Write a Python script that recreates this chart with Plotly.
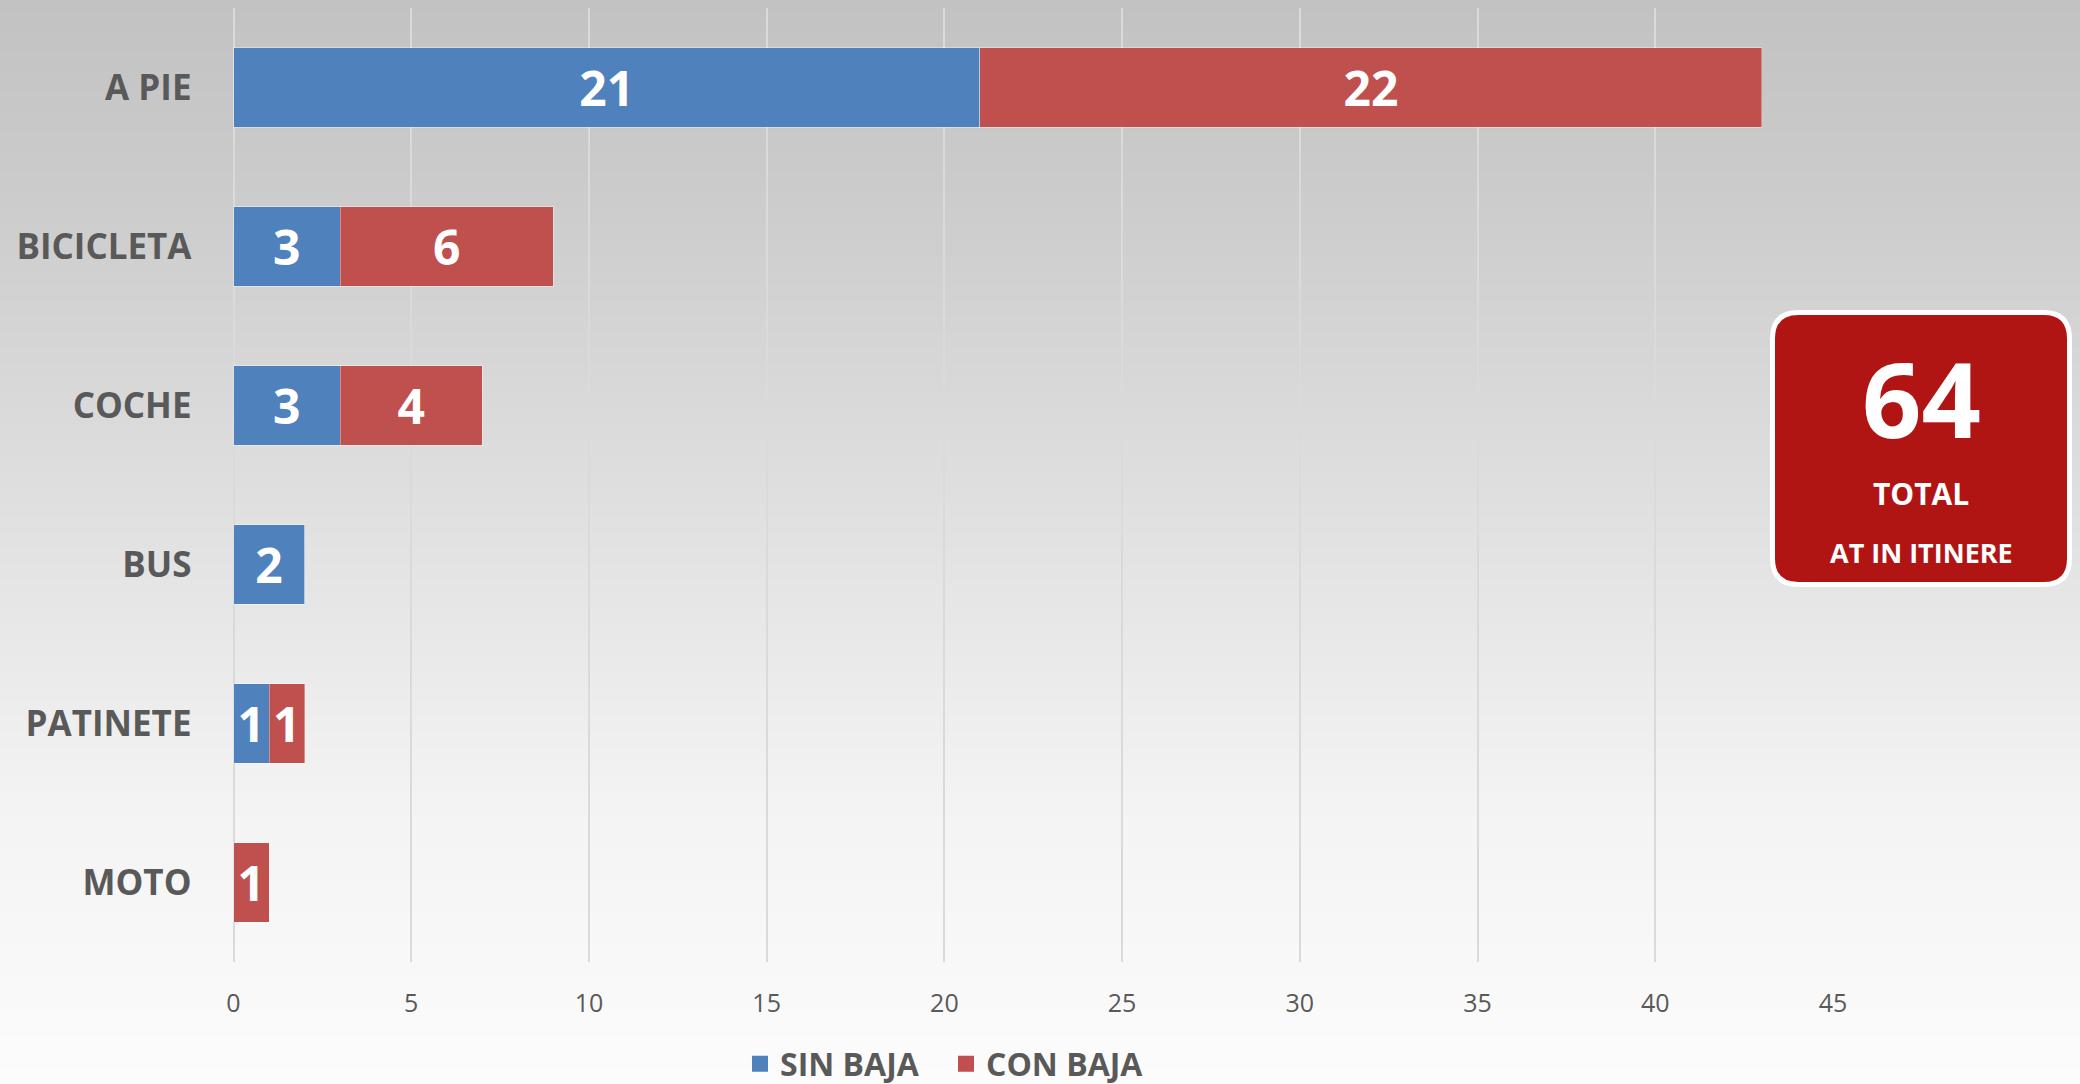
import base64, struct, zlib
import plotly.graph_objects as go

# ---------------- data ----------------
categories = ["A PIE", "BICICLETA", "COCHE", "BUS", "PATINETE", "MOTO"]
sin_baja = [21, 3, 3, 2, 1, 0]
con_baja = [22, 6, 4, 0, 1, 1]
x_ticks = [0, 5, 10, 15, 20, 25, 30, 35, 40, 45]
series_names = ["SIN BAJA", "CON BAJA"]
total_label = "64"

# ---------------- style ----------------
W, H = 2080, 1084
BLUE = "#4F81BD"
RED = "#C0504D"
TXT = "#595959"
FONT = "Open Sans"

def px_x(p):
    return p / W

def px_y(p):
    return 1 - p / H

# vertical gradient background as an inline PNG
def gradient_png():
    stops = [(0, 194), (200, 204), (540, 226), (800, 243), (1084, 252)]
    rows = []
    for y in range(H):
        for (y0, v0), (y1, v1) in zip(stops[:-1], stops[1:]):
            if y0 <= y <= y1:
                v = round(v0 + (v1 - v0) * (y - y0) / (y1 - y0))
                break
        rows.append(b"\x00" + bytes([v, v, v]))
    raw = b"".join(rows)

    def chunk(tag, data):
        c = struct.pack(">I", len(data)) + tag + data
        return c + struct.pack(">I", zlib.crc32(tag + data) & 0xFFFFFFFF)

    png = b"\x89PNG\r\n\x1a\n"
    png += chunk(b"IHDR", struct.pack(">IIBBBBB", 1, H, 8, 2, 0, 0, 0))
    png += chunk(b"IDAT", zlib.compress(raw, 9))
    png += chunk(b"IEND", b"")
    return "data:image/png;base64," + base64.b64encode(png).decode()

def labels(vals):
    return [str(v) if v else "" for v in vals]

fig = go.Figure()
for name, vals, col in [(series_names[0], sin_baja, BLUE), (series_names[1], con_baja, RED)]:
    fig.add_trace(go.Bar(
        y=categories, x=vals, name=name, orientation="h",
        marker=dict(color=col, line=dict(color="rgba(255,255,255,0.35)", width=1)),
        width=0.5,
        text=labels(vals), textposition="inside", insidetextanchor="middle",
        textangle=0, constraintext="none",
        textfont=dict(family=FONT, size=48, color="white", weight=700),
        showlegend=False, hoverinfo="x+y+name",
    ))
# legend entries (square keys)
for name, col in [(series_names[0], BLUE), (series_names[1], RED)]:
    fig.add_trace(go.Scatter(
        x=[None], y=[None], mode="markers", name=name,
        marker=dict(symbol="square", size=21, color=col),
        showlegend=True,
    ))

x0, x1 = 233.5, 1833
y_top, y_bot = 8, 962

fig.update_layout(
    template="none",
    width=W, height=H, autosize=False,
    margin=dict(l=0, r=0, t=0, b=0, pad=0, autoexpand=False),
    barmode="stack",
    paper_bgcolor="rgba(0,0,0,0)",
    plot_bgcolor="rgba(0,0,0,0)",
    font=dict(family=FONT, color=TXT),
    xaxis=dict(
        domain=[px_x(x0), px_x(x1)], range=[0, 45],
        tickvals=x_ticks, ticktext=[str(t) for t in x_ticks],
        showgrid=True, gridcolor="#DADADA", gridwidth=1.5,
        zeroline=True, zerolinecolor="#DADADA", zerolinewidth=1.5,
        showline=False, ticks="", automargin=False,
        tickfont=dict(family=FONT, size=25, color=TXT),
        ticklabelstandoff=24, fixedrange=True,
    ),
    yaxis=dict(
        domain=[px_y(y_bot), px_y(y_top)],
        categoryorder="array", categoryarray=categories,
        range=[5.5, -0.5],
        showgrid=False, zeroline=False, showline=False, ticks="",
        automargin=False,
        tickfont=dict(family=FONT, size=35, color=TXT, weight=700),
        ticklabelstandoff=41, fixedrange=True,
    ),
    legend=dict(
        orientation="h", x=px_x(740), y=px_y(1064), xanchor="left", yanchor="middle",
        font=dict(family=FONT, size=32, color=TXT, weight=700),
        bgcolor="rgba(0,0,0,0)", borderwidth=0, itemwidth=30, tracegroupgap=0,
        entrywidth=161, entrywidthmode="pixels",
        traceorder="normal",
        itemclick=False, itemdoubleclick=False,
    ),
    images=[dict(
        source=gradient_png(), xref="paper", yref="paper",
        x=0, y=1, sizex=1, sizey=1, sizing="stretch",
        xanchor="left", yanchor="top", layer="below",
    )],
)

# total box (rounded rectangle, pixel-sized around an anchor)
bw, bh, r = 297, 272, 26
hw, hh = bw / 2, bh / 2
path = (f"M{-hw + r},{-hh} L{hw - r},{-hh} Q{hw},{-hh} {hw},{-hh + r} "
        f"L{hw},{hh - r} Q{hw},{hh} {hw - r},{hh} L{-hw + r},{hh} "
        f"Q{-hw},{hh} {-hw},{hh - r} L{-hw},{-hh + r} Q{-hw},{-hh} {-hw + r},{-hh} Z")
fig.add_shape(
    type="path", path=path, xref="paper", yref="paper",
    xsizemode="pixel", ysizemode="pixel",
    xanchor=px_x(1921), yanchor=px_y(448.5),
    fillcolor="#B01513", line=dict(color="white", width=5), layer="above",
)
for txt, yc, size in [(total_label, 397, 104), ("TOTAL", 493, 30), ("AT IN ITINERE", 552, 27)]:
    fig.add_annotation(
        text=txt, xref="paper", yref="paper", x=px_x(1921), y=px_y(yc),
        xanchor="center", yanchor="middle", showarrow=False,
        font=dict(family=FONT, size=size, color="white", weight=700),
    )

fig.write_html(
    "out.html",
    config=dict(responsive=False, displayModeBar=False),
    post_script="document.body.style.margin='0';document.body.style.padding='0';"
                "document.body.style.overflow='hidden';",
)
